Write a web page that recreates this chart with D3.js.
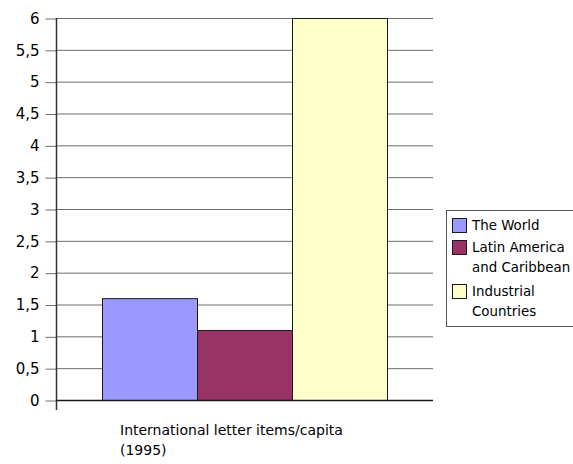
<!DOCTYPE html>
<html>
<head>
<meta charset="utf-8">
<script src="https://cdn.jsdelivr.net/npm/d3@7/dist/d3.min.js"></script>
<style>
  html, body { margin: 0; padding: 0; background: #fff; }
  svg { display: block; font-family: "DejaVu Sans", Verdana, sans-serif; }
</style>
</head>
<body>
<svg id="chart" width="573" height="464"></svg>
<script>
// International letter items per capita, 1995
const seriesNames = ["The World", "Latin America and Caribbean", "Industrial Countries"];
const seriesValues = [1.6, 1.1, 6];
const seriesColors = ["#9999ff", "#993366", "#ffffcc"];
const yTicks = [0, 0.5, 1, 1.5, 2, 2.5, 3, 3.5, 4, 4.5, 5, 5.5, 6];
const categoryLabel = ["International letter items/capita", "(1995)"];
const legendLines = [["The World"], ["Latin America", "and Caribbean"], ["Industrial", "Countries"]];

const svg = d3.select("#chart");
const plot = { left: 56, right: 433, top: 18, bottom: 400 };

const y = d3.scaleLinear().domain([0, 6]).range([plot.bottom, plot.top]);
const x = d3.scaleBand().domain(seriesNames)
  .range([102, 387]).paddingInner(0).paddingOuter(0);

// horizontal grid lines
svg.append("g").selectAll("line").data(yTicks.filter(t => t > 0)).join("line")
  .attr("x1", plot.left).attr("x2", plot.right)
  .attr("y1", d => y(d) + 0.5).attr("y2", d => y(d) + 0.5)
  .attr("stroke", "#6e6e6e").attr("stroke-width", 1);

// y axis with comma decimals
const fmt = d => String(d).replace(".", ",");
const yAxis = d3.axisLeft(y).tickValues(yTicks).tickFormat(fmt).tickSize(11).tickPadding(6);
const gy = svg.append("g").attr("transform", `translate(${plot.left + 0.5},0.5)`).call(yAxis);
gy.select(".domain").remove();
gy.selectAll(".tick line").attr("stroke", "#6e6e6e");
gy.selectAll(".tick text").attr("font-size", 15).attr("fill", "#000")
  .attr("font-family", "DejaVu Sans, Verdana, sans-serif");

// bars
svg.append("g").selectAll("rect").data(seriesValues).join("rect")
  .attr("x", (d, i) => x(seriesNames[i]) + 0.5)
  .attr("y", d => y(d) + 0.5)
  .attr("width", x.bandwidth())
  .attr("height", d => y(0) - y(d))
  .attr("fill", (d, i) => seriesColors[i])
  .attr("stroke", "#1a1a1a").attr("stroke-width", 1);

// axes lines
svg.append("line").attr("x1", plot.left + 0.5).attr("x2", plot.left + 0.5)
  .attr("y1", plot.top).attr("y2", 410).attr("stroke", "#333").attr("stroke-width", 1.5);
svg.append("line").attr("x1", plot.left).attr("x2", plot.right)
  .attr("y1", plot.bottom + 0.5).attr("y2", plot.bottom + 0.5)
  .attr("stroke", "#1a1a1a").attr("stroke-width", 1.5);

// category label
svg.append("text").attr("x", 120).attr("y", 435)
  .attr("font-size", 14).attr("fill", "#000")
  .selectAll("tspan").data(categoryLabel).join("tspan")
  .attr("x", 120).attr("dy", (d, i) => i === 0 ? 0 : 20).text(d => d);

// legend
const lg = svg.append("g");
lg.append("rect").attr("x", 446.5).attr("y", 210.5).attr("width", 140).attr("height", 116)
  .attr("fill", "#fff").attr("stroke", "#555").attr("stroke-width", 1);
const rowY = [218, 240, 284];
legendLines.forEach((lines, i) => {
  lg.append("rect").attr("x", 452.5).attr("y", rowY[i] + 0.5).attr("width", 14).attr("height", 14)
    .attr("fill", seriesColors[i]).attr("stroke", "#1a1a1a").attr("stroke-width", 1);
  const t = lg.append("text").attr("font-size", 13.4).attr("fill", "#000");
  lines.forEach((ln, j) => {
    t.append("tspan").attr("x", 472).attr("y", rowY[i] + 12 + j * 20).text(ln);
  });
});
</script>
</body>
</html>
